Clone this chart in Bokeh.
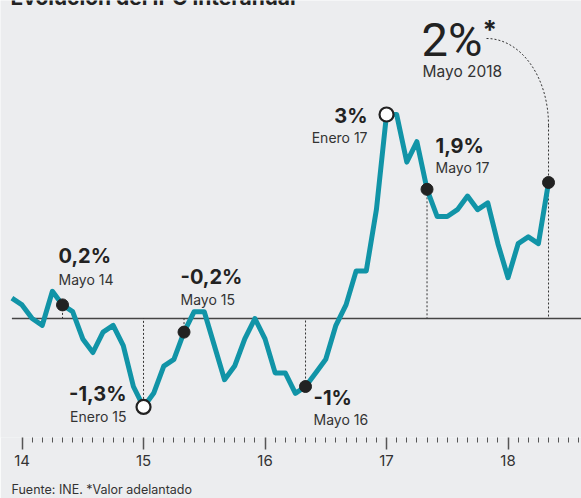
from bokeh.plotting import figure
from bokeh.models import Range1d, LinearAxis, FixedTicker, ColumnDataSource, Label, Title
from bokeh.core.properties import value
from bokeh.embed import file_html
from bokeh.resources import INLINE

# ---------------- data ----------------
# IPC interanual (%), monthly from Dec 2013 (index 0) to May 2018 (index 53)
ipc = [0.3,
       0.2, 0.0, -0.1, 0.4, 0.2, 0.1, -0.3, -0.5, -0.2, -0.1, -0.4, -1.0,   # 2014
       -1.3, -1.1, -0.7, -0.6, -0.2, 0.1, 0.1, -0.4, -0.9, -0.7, -0.3, 0.0,  # 2015
       -0.3, -0.8, -0.8, -1.1, -1.0, -0.8, -0.6, -0.1, 0.2, 0.7, 0.7, 1.6,   # 2016
       3.0, 3.0, 2.3, 2.6, 1.9, 1.5, 1.5, 1.6, 1.8, 1.6, 1.7, 1.1,           # 2017
       0.6, 1.1, 1.2, 1.1, 2.0]                                              # 2018
months = list(range(len(ipc)))

year_tick_months = [1, 13, 25, 37, 49]          # January of each year
year_labels = ["14", "15", "16", "17", "18"]

ann_months = [5, 13, 17, 29, 37, 41]
ann_values = ["0,2%", "-1,3%", "-0,2%", "-1%", "3%", "1,9%"]
ann_dates = ["Mayo 14", "Enero 15", "Mayo 15", "Mayo 16", "Enero 17", "Mayo 17"]
ann_open = [False, True, False, False, True, False]
ann_drop = [True, True, True, True, False, True]

last_month = 53
last_value_text = "2%"
last_date_text = "Mayo 2018"

title_text = "Evolución del IPC interanual"
footer_text = "Fuente: INE. *Valor adelantado"

# ---------------- style / layout ----------------
BG = "#ecedef"
TEAL = "#1194a7"
DARK = "#222222"
PX_M = 10.125      # px per month
PX_V = 68.0        # px per percentage point
W, H = 581, 437

x0 = -11.4 / PX_M
y1 = 318 / PX_V
x_range = Range1d(x0, x0 + W / PX_M)
y_range = Range1d(y1 - H / PX_V, y1)

p = figure(frame_width=W, frame_height=H, x_range=x_range, y_range=y_range,
           x_axis_type=None, y_axis_type=None, toolbar_location=None,
           output_backend="svg", min_border=0,
           background_fill_color=BG, border_fill_color=BG, outline_line_color=None)

# axis with monthly minor ticks
minor = [m for m in range(1, 58) if m not in year_tick_months]
axis = LinearAxis(ticker=FixedTicker(ticks=year_tick_months, minor_ticks=minor),
                  major_label_overrides={m: l for m, l in zip(year_tick_months, year_labels)},
                  axis_line_color=None,
                  major_tick_in=0, major_tick_out=12, major_tick_line_color="#555555",
                  major_tick_line_width=1.5,
                  minor_tick_in=0, minor_tick_out=5, minor_tick_line_color="#555555",
                  minor_tick_line_width=1,
                  major_label_text_font="Inter", major_label_text_font_size="15px",
                  major_label_text_color="#333333", major_label_standoff=5)
p.add_layout(axis, "below")

p.add_layout(Title(text=footer_text, align="left", offset=11, text_font="Inter",
                   text_font_size="12.5px", text_font_style="normal", text_color="#333333",
                   standoff=22), "below")

# zero line
p.segment(x0=[months[0]], y0=[0], x1=[x_range.end], y1=[0], line_color="#444444", line_width=1.5)

# dotted drop lines from annotated points to zero
dm = [m for m, d in zip(ann_months, ann_drop) if d] + [last_month]
dv = [ipc[m] for m in dm]
p.segment(x0=dm, y0=dv, x1=dm, y1=[0] * len(dm), line_color="#333333",
          line_width=1, line_dash="2 2")

# main line
p.line(months, ipc, line_color=TEAL, line_width=5, line_join="round")

# connector from the big label to the last point
lx, ly = last_month, ipc[last_month]
def dxp(px):
    return px / PX_M
def dyp(px):
    return -px / PX_V
p.bezier(x0=[lx + dxp(-62)], y0=[ly + dyp(-144)],
         x1=[lx], y1=[ly + dyp(-57)],
         cx0=[lx + dxp(-28)], cy0=[ly + dyp(-144)],
         cx1=[lx], cy1=[ly + dyp(-106)],
         line_color="#333333", line_width=1, line_dash="2 2")
p.segment(x0=[lx], y0=[ly + dyp(-57)], x1=[lx], y1=[ly], line_color="#333333",
          line_width=1, line_dash="2 2")

# markers
fm = [m for m, o in zip(ann_months, ann_open) if not o] + [last_month]
p.scatter([m for m in fm], [ipc[m] for m in fm], size=12, fill_color=DARK, line_color=DARK)
om = [m for m, o in zip(ann_months, ann_open) if o]
p.scatter(om, [ipc[m] for m in om], size=14, fill_color="white", line_color=DARK, line_width=2.2)

# annotation labels (offsets in px relative to the point)
val_dx = [-4, -17, -3.5, 8, -19, 8.5]
val_dy = [-49, -13, -55, 11, 1, -43]
date_dy = [-25, 10, -33, 33, 23, -22]
align = ["left", "right", "left", "left", "right", "left"]
src = ColumnDataSource(dict(x=ann_months, y=[ipc[m] for m in ann_months],
                            v=ann_values, d=ann_dates, dx=val_dx, vdy=val_dy,
                            ddy=date_dy, align=align))
p.text(x="x", y="y", text="v", x_offset="dx", y_offset="vdy", text_align="align",
       text_baseline="alphabetic", text_font=value("Inter"), text_font_style="bold",
       text_font_size="20px", text_color=DARK, source=src)
p.text(x="x", y="y", text="d", x_offset="dx", y_offset="ddy", text_align="align",
       text_baseline="alphabetic", text_font=value("Inter"), text_font_size="14px",
       text_color="#333333", source=src)

# big label for last value
p.text(x=[lx], y=[ly], text=[last_value_text], x_offset=-127, y_offset=-143,
       text_align="left", text_baseline="alphabetic",
       text_font=value("Roboto"),
       text_font_size="47px", text_color=DARK)
p.text(x=[lx], y=[ly], text=["*"], x_offset=-66, y_offset=-169,
       text_align="left", text_baseline="top", text_font=value("Inter"),
       text_font_style="bold", text_font_size="26px", text_color=DARK)
p.text(x=[lx], y=[ly], text=[last_date_text], x_offset=-126, y_offset=-111,
       text_align="left", text_baseline="alphabetic", text_font=value("Inter"),
       text_font_size="15.5px", text_color="#333333")

# chart title (cropped at the top in the reference)
p.add_layout(Label(x=x0 + 10 / PX_M, y=y1 + 3.4 / PX_V, text=title_text,
                   text_font="Inter", text_font_style="bold", text_font_size="21px",
                   text_color=DARK, text_baseline="alphabetic"))

open("out.html", "w").write(file_html(p, INLINE))
